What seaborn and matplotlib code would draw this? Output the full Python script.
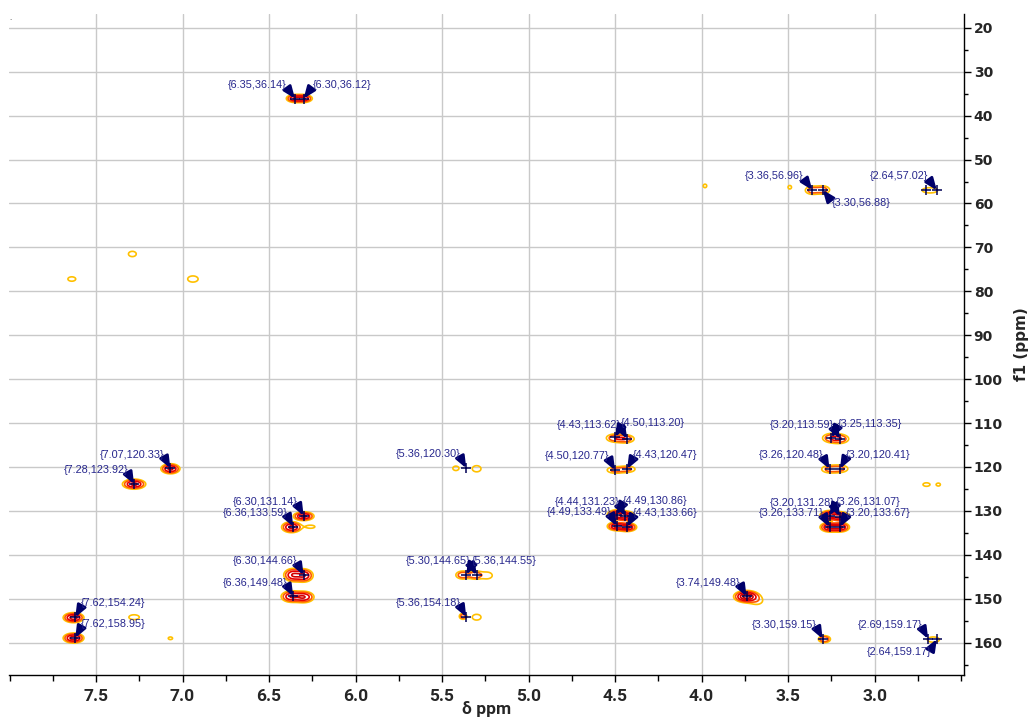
import numpy as np
import matplotlib
matplotlib.use("Agg")
import matplotlib.pyplot as plt
from matplotlib.ticker import MultipleLocator
import seaborn as sns

# ---- picked cross-peaks (1H shift, 13C shift) and where their labels sit ----
pick_h = [6.35, 6.30, 3.36, 3.30, 2.64, 7.07, 7.28, 6.30, 6.36, 6.30, 6.36,
          5.36, 5.30, 5.36, 5.36, 4.43, 4.50, 4.50, 4.43, 4.44, 4.49, 4.49,
          4.43, 3.20, 3.25, 3.26, 3.20, 3.20, 3.26, 3.26, 3.20, 3.74, 3.30,
          2.69, 2.64, 7.62, 7.62]
pick_c = [36.14, 36.12, 56.96, 56.88, 57.02, 120.33, 123.92, 131.14, 133.59,
          144.66, 149.48, 120.30, 144.65, 144.55, 154.18, 113.62, 113.20,
          120.77, 120.47, 131.23, 130.86, 133.49, 133.66, 113.59, 113.35,
          120.48, 120.41, 131.28, 131.07, 133.71, 133.67, 149.48, 159.15,
          159.17, 159.17, 154.24, 158.95]
pick_side = ["ul", "ur", "ul", "lr", "ul", "ul", "ul", "ul", "ul", "ul", "ul",
             "ul", "ul", "ur", "ul", "ul", "ur", "ul", "ur", "ul", "ur", "ul",
             "ur", "ul", "ur", "ul", "ur", "ul", "ur", "ul", "ur", "ul", "ul",
             "ul", "ll", "ur", "ur"]
# picks without a label
extra_h = [2.70]
extra_c = [57.00]

# ---- contour blobs: centre, outer-contour width/height (ppm), intensity ----
blob_h = [6.35, 6.30, 3.36, 3.30, 2.68, 3.49, 3.98, 7.64, 7.29, 6.94,
          7.07, 7.28, 6.30, 6.37, 6.26, 6.36, 6.30, 6.37, 6.30,
          5.42, 5.30, 5.38, 5.31, 5.24, 5.38, 5.30,
          4.50, 4.44, 4.50, 4.43, 4.49, 4.44, 4.49, 4.43,
          3.25, 3.20, 3.26, 3.20, 3.26, 3.20, 3.26, 3.20,
          2.70, 2.63, 3.74, 3.68, 3.29, 2.66, 7.63, 7.63, 7.28, 7.07]
blob_c = [36.1, 36.1, 57.0, 56.9, 57.0, 56.3, 56.0, 77.2, 71.5, 77.2,
          120.4, 123.9, 131.2, 133.7, 133.6, 144.6, 144.7, 149.5, 149.6,
          120.3, 120.4, 144.6, 144.6, 144.7, 154.0, 154.2,
          113.4, 113.6, 120.7, 120.5, 130.9, 131.2, 133.5, 133.7,
          113.4, 113.6, 120.5, 120.4, 131.0, 131.3, 133.7, 133.7,
          124.0, 124.0, 149.5, 150.5, 159.2, 159.3, 154.3, 158.95, 154.2, 159.0]
blob_w = [0.10, 0.10, 0.08, 0.08, 0.09, 0.02, 0.02, 0.045, 0.045, 0.06,
          0.11, 0.135, 0.12, 0.115, 0.05, 0.11, 0.11, 0.12, 0.12,
          0.035, 0.05, 0.08, 0.08, 0.06, 0.04, 0.05,
          0.10, 0.10, 0.09, 0.09, 0.11, 0.11, 0.11, 0.11,
          0.10, 0.10, 0.09, 0.09, 0.11, 0.11, 0.11, 0.11,
          0.04, 0.02, 0.15, 0.06, 0.07, 0.07, 0.12, 0.12, 0.06, 0.025]
blob_hgt = [1.8, 1.8, 1.8, 1.8, 1.2, 0.8, 0.8, 1.0, 1.2, 1.4,
            2.3, 2.3, 2.0, 2.5, 0.7, 3.0, 3.0, 2.6, 2.6,
            1.0, 1.4, 1.8, 1.8, 1.5, 1.3, 1.3,
            1.8, 1.8, 1.4, 1.4, 2.3, 2.3, 2.0, 2.0,
            2.0, 2.0, 1.6, 1.6, 2.2, 2.2, 2.2, 2.2,
            0.8, 0.6, 2.8, 1.5, 1.6, 1.2, 2.3, 2.3, 1.1, 0.6]
blob_amp = [7, 7, 3, 3, 1.6, 1.2, 1.2, 1.3, 1.3, 1.4,
            8, 8, 8, 8, 1.3, 7, 7, 7, 7,
            1.4, 1.4, 3.5, 3.5, 1.5, 3, 1.3,
            3.5, 3.5, 2.6, 2.6, 8, 8, 8, 8,
            3.5, 3.5, 2.6, 2.6, 8, 8, 8, 8,
            1.3, 1.2, 12, 1.5, 4, 1.6, 9, 9, 1.4, 1.2]

x_major = [7.5, 7.0, 6.5, 6.0, 5.5, 5.0, 4.5, 4.0, 3.5, 3.0]
y_major = list(range(20, 161, 10))

# ---- build the 2D intensity map ----
xs = np.linspace(2.40, 8.05, 1600)
ys = np.linspace(15.0, 169.0, 1400)
X, Y = np.meshgrid(xs, ys)
Z = np.zeros_like(X)
for h, c, w, hg, a in zip(blob_h, blob_c, blob_w, blob_hgt, blob_amp):
    k = np.sqrt(2 * np.log(a))
    sx = (w / 2) / k
    sy = (hg / 2) / k
    Z += a * np.exp(-((X - h) ** 2) / (2 * sx ** 2) - ((Y - c) ** 2) / (2 * sy ** 2))

sns.set_theme(style="white")
plt.rcParams["font.family"] = ["DejaVu Sans"]

fig = plt.figure(figsize=(10.29, 7.24), dpi=100)
ax = fig.add_axes([9 / 1029, 1 - 675 / 724, (964 - 9) / 1029, (675 - 14) / 724])

levels = [1, 2, 4, 7, 10]
colors = ["#ffc000", "#ff5a00", "#e60000", "#d20000", "#b00000"]
ax.contour(X, Y, Z, levels=levels, colors=colors, linewidths=1.2, zorder=3)

# peak-pick crosses
sns.scatterplot(x=pick_h + extra_h, y=pick_c + extra_c, marker="+", s=45,
                color="#000055", linewidth=1.1, ax=ax, zorder=5, legend=False)

# labels with arrows pointing at each pick
offs = {"ul": (-27.5, 10.0), "ur": (27.5, 10.0), "ll": (-27.5, -9.5), "lr": (27.5, -9.5)}
rel = {"ul": (0.97, 0.55), "ur": (0.03, 0.55), "ll": (0.97, 0.45), "lr": (0.03, 0.45)}
for h, c, sd in zip(pick_h, pick_c, pick_side):
    ax.annotate("{%.2f,%.2f}" % (h, c), xy=(h, c), xytext=offs[sd],
                textcoords="offset points", ha="center", va="center",
                fontsize=7.8, color="#26268c", family="Liberation Sans", zorder=6,
                arrowprops=dict(arrowstyle="-|>,head_length=0.7,head_width=0.28",
                                color="#00006a", lw=2.0, shrinkA=0, shrinkB=0,
                                mutation_scale=10, relpos=rel[sd]))

ax.set_xlim(8.003, 2.483)
ax.set_ylim(167.36, 16.86)
ax.xaxis.set_major_locator(plt.FixedLocator(x_major))
ax.xaxis.set_minor_locator(MultipleLocator(0.25))
ax.yaxis.set_major_locator(plt.FixedLocator(y_major))
ax.yaxis.set_minor_locator(MultipleLocator(5))
ax.grid(True, which="major", color="#c9c9c9", lw=1.0, zorder=0)
ax.set_axisbelow(True)

for s in ["top", "left"]:
    ax.spines[s].set_visible(False)
for s in ["bottom", "right"]:
    ax.spines[s].set_color("black")
    ax.spines[s].set_linewidth(1.0)

ax.yaxis.tick_right()
ax.yaxis.set_label_position("right")
ax.tick_params(axis="y", which="both", direction="out", right=True, left=False,
               labelright=True, labelleft=False, color="black", pad=2)
ax.tick_params(axis="y", which="major", length=5, width=1)
ax.tick_params(axis="y", which="minor", length=3, width=1)
ax.tick_params(axis="x", which="both", direction="out", bottom=True, color="black", pad=5)
ax.tick_params(axis="x", which="major", length=5, width=1)
ax.tick_params(axis="x", which="minor", length=4, width=1)

ax.set_xticklabels(["%.1f" % v for v in x_major], fontsize=12.5, fontweight="bold",
                   family="Roboto")
ax.set_yticklabels([str(v) for v in y_major], fontsize=10, fontweight="bold")

ax.set_xlabel("δ ppm", fontsize=12.5, fontweight="bold", family="Roboto", labelpad=-2)
ax.set_ylabel("f1 (ppm)", fontsize=11, fontweight="bold", labelpad=8)

fig.text(9 / 1029, 1 - 20 / 724, "..", fontsize=4, color="#555555")

fig.savefig("out.png", dpi=100)
